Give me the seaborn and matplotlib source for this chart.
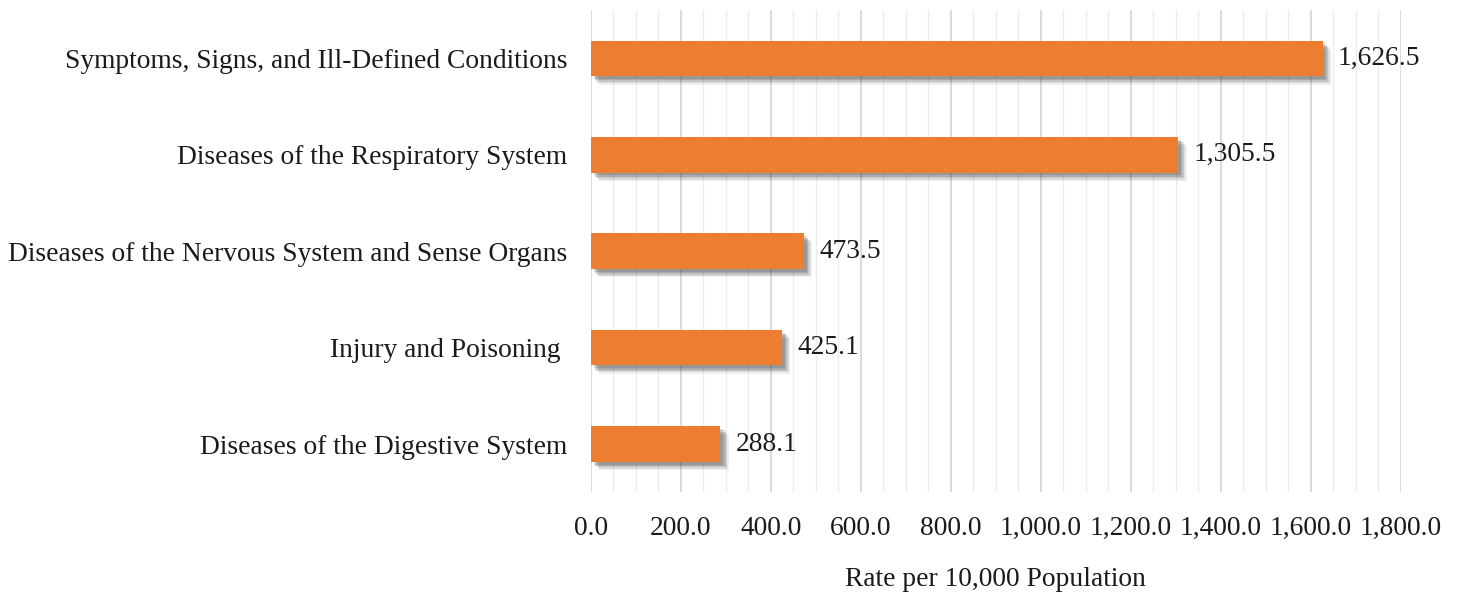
import matplotlib

matplotlib.use("Agg")
import matplotlib.pyplot as plt  # noqa: E402
import matplotlib.patheffects as pe  # noqa: E402
from matplotlib.ticker import MultipleLocator, FuncFormatter  # noqa: E402
import seaborn as sns  # noqa: E402
import pandas as pd  # noqa: E402

categories = [
    "Symptoms, Signs, and Ill-Defined Conditions",
    "Diseases of the Respiratory System",
    "Diseases of the Nervous System and Sense Organs",
    "Injury and Poisoning ",
    "Diseases of the Digestive System",
]
rates = [1626.5, 1305.5, 473.5, 425.1, 288.1]

sns.set_theme(style="white")
plt.rcParams["font.family"] = ["Liberation Serif", "DejaVu Serif"]
FS = 19.8
TXT = "#1a1a1a"

df = pd.DataFrame({"category": categories, "rate": rates})

fig = plt.figure(figsize=(14.59, 5.96), dpi=100)
ax = fig.add_axes([0.405, 0.174, 0.555, 0.809])

sns.barplot(
    data=df, y="category", x="rate", orient="h", color="#ED7D31",
    saturation=1, width=0.37, linewidth=0, ax=ax,
)
# soft drop shadow, built from a few stacked translucent offsets
shadow = [
    pe.SimplePatchShadow(offset=(d, -d), shadow_rgbFace="#333333", alpha=a)
    for d, a in [(6, 0.07), (5, 0.1), (4, 0.14), (3, 0.16), (2, 0.16)]
]
for bar in ax.patches:
    bar.set_path_effects(shadow + [pe.Normal()])

ax.bar_label(ax.containers[0], labels=[f"{v:,.1f}" for v in rates],
             padding=11, fontsize=FS, color=TXT)

ax.set_xlim(0, 1800)
ax.set_ylim(4.5, -0.5)
ax.xaxis.set_major_locator(MultipleLocator(200))
ax.xaxis.set_minor_locator(MultipleLocator(50))
ax.xaxis.set_major_formatter(FuncFormatter(lambda v, _: f"{v:,.1f}"))
ax.grid(axis="x", which="major", color="#d4d4d4", linewidth=1.2)
ax.grid(axis="x", which="minor", color="#ececec", linewidth=1.0)
ax.set_axisbelow(True)
for s in ax.spines.values():
    s.set_visible(False)

ax.tick_params(axis="y", length=0, pad=17, labelsize=FS, labelcolor=TXT)
ax.tick_params(axis="x", which="both", length=0, pad=17, labelsize=FS,
               labelcolor=TXT)
ax.set_ylabel("")
ax.set_xlabel("Rate per 10,000 Population", fontsize=FS, color=TXT,
              labelpad=19)

fig.savefig("out.png", dpi=100)
